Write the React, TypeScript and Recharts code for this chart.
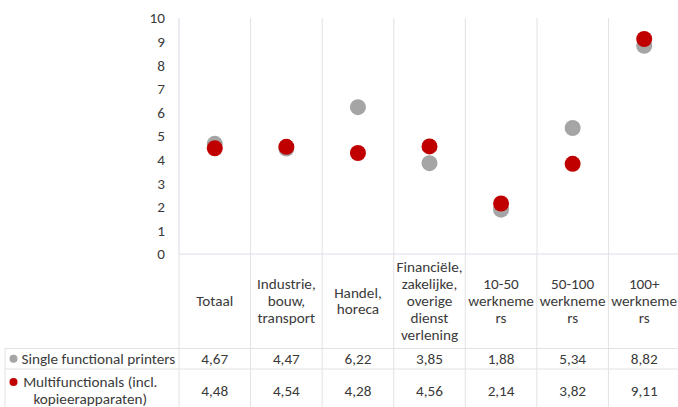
import React from 'react';
import { ScatterChart, Scatter, XAxis, YAxis, CartesianGrid } from 'recharts';

const categories: string[][] = [
  ['Totaal'],
  ['Industrie,', 'bouw,', 'transport'],
  ['Handel,', 'horeca'],
  ['Financiële,', 'zakelijke,', 'overige', 'dienst', 'verlening'],
  ['10-50', 'werkneme', 'rs'],
  ['50-100', 'werkneme', 'rs'],
  ['100+', 'werkneme', 'rs'],
];
const singleValues = [4.67, 4.47, 6.22, 3.85, 1.88, 5.34, 8.82];
const multiValues = [4.48, 4.54, 4.28, 4.56, 2.14, 3.82, 9.11];
const yTicks = [0, 1, 2, 3, 4, 5, 6, 7, 8, 9, 10];
const seriesNames = ['Single functional printers', 'Multifunctionals (incl.|kopieerapparaten)'];

const GRAY = '#a5a5a5';
const RED = '#c00000';
const TEXT = '#3a3a3a';
const LINE = '#e2e2e2';
const FONT = 'Carlito, Lato, sans-serif';
const FS = 15.2;

const singleData = singleValues.map((v, i) => ({ x: i, y: v }));
const multiData = multiValues.map((v, i) => ({ x: i, y: v }));

const fmt = (v: number) => v.toFixed(2).replace('.', ',');

const XTick = (props: any) => {
  const { x, y, payload } = props;
  const n = categories.length;
  const plotW = props.width && props.width > 100 ? props.width : 501.2;
  const bw = plotW / n;
  const top = y - 8; // axis line position
  const idx = payload.value;
  const lines = categories[idx] || [];
  const catCenter = top + 47;
  const lh = 16.8;
  const row1Top = top + 94.5;
  const row2Top = top + 115;
  const bottom = top + 170;
  const els: any[] = [];
  els.push(<line key="l" x1={x - bw / 2} x2={x - bw / 2} y1={top} y2={bottom} stroke={LINE} />);
  if (idx === n - 1) {
    els.push(<line key="r" x1={x + bw / 2} x2={x + bw / 2} y1={top} y2={bottom} stroke={LINE} />);
  }
  lines.forEach((t, k) => {
    const cy = catCenter + (k - (lines.length - 1) / 2) * lh;
    els.push(
      <text key={'c' + k} x={x} y={cy} textAnchor="middle" dominantBaseline="central" fill={TEXT} fontSize={FS} fontFamily={FONT}>
        {t}
      </text>
    );
  });
  els.push(
    <text key="v1" x={x} y={row1Top + 10.3} textAnchor="middle" dominantBaseline="central" fill={TEXT} fontSize={FS} fontFamily={FONT}>
      {fmt(singleValues[idx])}
    </text>
  );
  els.push(
    <text key="v2" x={x} y={row2Top + 21.7} textAnchor="middle" dominantBaseline="central" fill={TEXT} fontSize={FS} fontFamily={FONT}>
      {fmt(multiValues[idx])}
    </text>
  );
  if (idx === 0) {
    const left = x - bw / 2;
    const tableLeft = 5;
    const right = left + plotW + 2;
    els.push(<line key="h1" x1={tableLeft} x2={right} y1={row1Top} y2={row1Top} stroke={LINE} />);
    els.push(<line key="h2" x1={tableLeft} x2={right} y1={row2Top} y2={row2Top} stroke={LINE} />);
    els.push(<line key="lb" x1={tableLeft} x2={tableLeft} y1={row1Top} y2={bottom} stroke={LINE} />);
    els.push(<circle key="m1" cx={13.5} cy={row1Top + 10.3} r={4} fill={GRAY} />);
    els.push(
      <text key="n1" x={21.5} y={row1Top + 10.3} textAnchor="start" dominantBaseline="central" fill={TEXT} fontSize={FS} fontFamily={FONT}>
        {seriesNames[0]}
      </text>
    );
    const parts = seriesNames[1].split('|');
    els.push(<circle key="m2" cx={13.5} cy={row2Top + 13} r={4} fill={RED} />);
    parts.forEach((p, k) => {
      els.push(
        <text key={'n2' + k} x={90.3} y={row2Top + 13 + k * 16.5} textAnchor="middle" dominantBaseline="central" fill={TEXT} fontSize={FS} fontFamily={FONT}>
          {p}
        </text>
      );
    });
  }
  return <g>{els}</g>;
};

const Dot = (color: string) => (p: any) => <circle cx={p.cx} cy={p.cy} r={8} fill={color} />;

export default function App() {
  return (
    <div style={{ position: 'absolute', left: 0, top: 0, width: 678, height: 407, overflow: 'hidden', background: '#fff' }}>
      <ScatterChart width={680} height={425} margin={{ top: 18, right: 0, bottom: 0, left: 149 }}>
        <CartesianGrid
          horizontal={false}
          vertical={true}
          stroke={LINE}
          verticalPoints={[0.5, 1.5, 2.5, 3.5, 4.5, 5.5].map((v) => 179 + ((v + 0.5) * 501.2) / 7)}
        />
        <XAxis
          type="number"
          dataKey="x"
          domain={[-0.5, 6.5]}
          ticks={[0, 1, 2, 3, 4, 5, 6]}
          interval={0}
          height={171}
          tick={<XTick />}
          tickLine={false}
          tickSize={0}
          tickMargin={8}
          axisLine={{ stroke: '#dcdce8' }}
        />
        <YAxis
          type="number"
          dataKey="y"
          domain={[0, 10]}
          ticks={yTicks}
          interval={0}
          width={30}
          tickLine={false}
          tickSize={0}
          tickMargin={14}
          axisLine={{ stroke: '#d6d6e6' }}
          tick={{ fill: TEXT, fontSize: FS, fontFamily: FONT }}
        />
        <Scatter data={singleData} fill={GRAY} shape={Dot(GRAY)} isAnimationActive={false} />
        <Scatter data={multiData} fill={RED} shape={Dot(RED)} isAnimationActive={false} />
      </ScatterChart>
    </div>
  );
}
